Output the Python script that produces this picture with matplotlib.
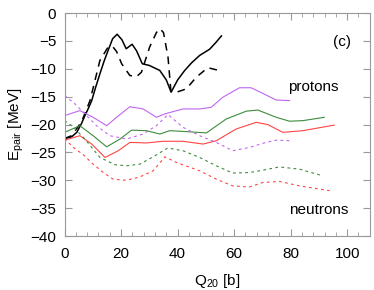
import matplotlib
matplotlib.use("Agg")
import matplotlib.pyplot as plt
from matplotlib.ticker import MultipleLocator

plt.rcParams['font.family'] = ['Liberation Sans', 'DejaVu Sans']
plt.rcParams['mathtext.fontset'] = 'custom'
plt.rcParams['mathtext.rm'] = 'Liberation Sans'

# black solid
bs_x = [0, 2.5, 4.3, 6.0, 7.2, 8.5, 9.6, 11.0, 12.5, 14.0, 15.4, 17.0, 18.6, 20.3, 21.8, 23.9, 25.5, 27.5, 30.0, 33.7, 36.0, 37.7, 40.0, 42.5, 45.0, 47.8, 51.3, 53.5, 55.5]
bs_y = [-22.5, -22.2, -21.4, -19.8, -18.4, -17.0, -15.7, -13.3, -10.9, -8.6, -6.7, -4.6, -3.8, -4.8, -6.4, -5.6, -6.8, -9.1, -9.4, -10.3, -12.0, -14.2, -12.0, -10.3, -8.9, -7.6, -6.5, -5.3, -4.1]
# black dashed
bd_x = [0, 2.5, 6.0, 9.0, 12.5, 15.4, 17.0, 18.4, 20.2, 23.1, 25.5, 27.2, 30.1, 32.5, 33.7, 35.0, 36.6, 37.6, 39.6, 43.1, 46.6, 50.7, 55.4]
bd_y = [-22.5, -22.0, -19.5, -15.7, -8.5, -6.1, -6.0, -6.9, -9.1, -11.2, -11.4, -10.6, -6.1, -3.5, -2.8, -3.5, -7.9, -13.9, -14.2, -13.6, -11.5, -9.8, -10.4]
# purple solid (protons)
ps_x = [0, 5.4, 10.1, 14.9, 18.4, 23.1, 27.8, 32.5, 35.4, 41.9, 47.8, 51.9, 56.0, 61.9, 66.0, 70.1, 74.9, 79.6]
ps_y = [-18.4, -17.5, -18.7, -20.2, -18.7, -16.8, -17.2, -18.7, -18.1, -17.2, -17.2, -16.9, -15.1, -13.4, -13.4, -14.4, -15.6, -15.7]
# green solid
gs_x = [0, 5.4, 10.1, 14.9, 19.6, 23.7, 29.0, 33.7, 37.2, 44.3, 50.2, 57.2, 64.3, 68.4, 74.9, 79.6, 84.3, 91.9]
gs_y = [-21.4, -20.2, -22.0, -24.0, -22.6, -21.0, -21.1, -21.7, -21.1, -21.3, -21.5, -19.0, -17.6, -17.4, -18.7, -19.4, -19.3, -18.7]
# red solid
rs_x = [0, 5.4, 9.6, 14.3, 19.0, 23.1, 29.0, 34.8, 41.9, 49.0, 53.7, 60.7, 67.8, 71.9, 77.2, 84.3, 95.4]
rs_y = [-22.8, -22.0, -23.5, -25.9, -24.7, -23.2, -23.3, -23.0, -23.0, -23.5, -22.9, -20.8, -19.6, -20.0, -21.4, -21.1, -20.1]
# purple dashed
pd_x = [0, 3.7, 7.2, 11.3, 16.0, 21.9, 27.8, 32.5, 36.6, 41.9, 47.8, 53.7, 59.5, 65.4, 71.3, 74.9, 79.6]
pd_y = [-14.8, -16.3, -18.1, -20.2, -22.0, -22.6, -21.7, -20.2, -18.2, -20.5, -22.0, -23.2, -24.7, -24.1, -23.2, -22.8, -22.9]
# green dashed
gd_x = [0, 3.0, 7.0, 12.5, 17.8, 21.9, 26.6, 31.3, 36.5, 41.9, 47.8, 53.7, 59.5, 65.4, 69.0, 76.0, 83.1, 90.7]
gd_y = [-19.3, -20.4, -22.5, -25.9, -27.2, -27.4, -27.1, -25.8, -24.2, -24.7, -25.9, -27.4, -28.7, -28.6, -28.3, -27.6, -28.0, -29.1]
# red dashed
rd_x = [0, 3.1, 6.6, 10.1, 13.7, 17.2, 21.9, 26.6, 31.3, 35.5, 39.6, 47.8, 53.7, 59.5, 65.4, 70.1, 76.0, 83.1, 94.3]
rd_y = [-22.5, -24.1, -25.4, -27.1, -28.6, -29.8, -30.0, -29.4, -28.3, -25.8, -26.8, -28.3, -29.8, -31.0, -31.2, -30.4, -30.2, -31.0, -31.9]

purple = '#c066f0'
green = '#3c8c3c'
red = '#ff4444'

fig = plt.figure(figsize=(3.74, 2.9), dpi=100)
ax = fig.add_axes([0.1727, 0.186, 0.816, 0.769])

ax.plot(bs_x, bs_y, color='black', lw=1.1)
ax.plot(bd_x, bd_y, color='black', lw=1.1, dashes=(5, 4))
ax.plot(ps_x, ps_y, color=purple, lw=0.8)
ax.plot(gs_x, gs_y, color=green, lw=0.8)
ax.plot(rs_x, rs_y, color=red, lw=0.8)
ax.plot(pd_x, pd_y, color=purple, lw=0.8, dashes=(2.5, 3))
ax.plot(gd_x, gd_y, color=green, lw=0.8, dashes=(2.5, 3))
ax.plot(rd_x, rd_y, color=red, lw=0.8, dashes=(2.5, 3))

ax.set_xlim(0, 108)
ax.set_ylim(-40, 0)
ax.xaxis.set_major_locator(MultipleLocator(20))
ax.xaxis.set_minor_locator(MultipleLocator(4))
ax.yaxis.set_major_locator(MultipleLocator(5))
ax.tick_params(which='both', direction='in', top=True, right=True, color='#999999', labelsize=11)
ax.tick_params(which='major', length=5)
ax.tick_params(which='minor', length=3)
ax.tick_params(axis='x', which='major', pad=8)
ax.tick_params(axis='y', which='major', pad=6)
for s in ax.spines.values():
    s.set_color('#999999')

ax.set_xlabel(r'Q$_\mathregular{20}$ [b]', fontsize=11, labelpad=8)
ax.set_ylabel(r'E$_\mathregular{pair}$ [MeV]', fontsize=11, labelpad=3)

ax.text(98, -5.2, '(c)', fontsize=11, ha='center', va='center')
ax.text(88, -13.2, 'protons', fontsize=11, ha='center', va='center')
ax.text(90, -35.3, 'neutrons', fontsize=11, ha='center', va='center')

fig.savefig('out.png', dpi=100)
